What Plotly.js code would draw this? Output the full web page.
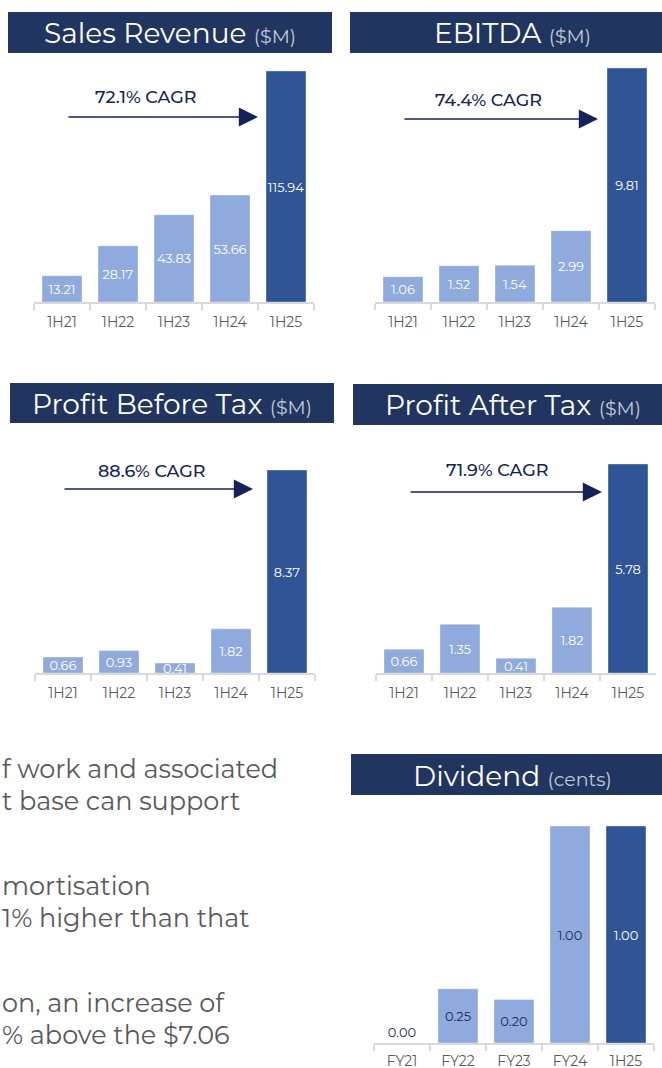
<!DOCTYPE html>
<html>
<head>
<meta charset="utf-8">
<script src="https://cdn.plot.ly/plotly-3.0.1.min.js"></script>
<style>
  html, body { margin: 0; padding: 0; background: #ffffff; }
  #chart { width: 662px; height: 1068px; }
</style>
</head>
<body>
<div id="chart"></div>
<script>
// ---- data ----
const halfYears = ['1H21', '1H22', '1H23', '1H24', '1H25'];
const dividendPeriods = ['FY21', 'FY22', 'FY23', 'FY24', '1H25'];
const salesRevenue = [13.21, 28.17, 43.83, 53.66, 115.94];
const ebitda = [1.06, 1.52, 1.54, 2.99, 9.81];
const profitBeforeTax = [0.66, 0.93, 0.41, 1.82, 8.37];
const profitAfterTax = [0.66, 1.35, 0.41, 1.82, 5.78];
const dividend = [0.00, 0.25, 0.20, 1.00, 1.00];
const panelTitles = ['Sales Revenue', 'EBITDA', 'Profit Before Tax', 'Profit After Tax', 'Dividend'];
const panelUnits = ['($M)', '($M)', '($M)', '($M)', '(cents)'];
const cagrLabels = ['72.1% CAGR', '74.4% CAGR', '88.6% CAGR', '71.9% CAGR'];
const bodyLines = [
  'f work and associated',
  't base can support',
  'mortisation',
  '1% higher than that',
  'on, an increase of',
  '% above the $7.06'
];

// ---- styling / layout helpers ----
const W = 662, H = 1068;
const px = v => v / W;
const py = v => 1 - v / H;
const FONT = 'Montserrat, "Open Sans", sans-serif';
const NAVY = '#203560';
const LIGHT = '#8faadc';
const DARK = '#2f5597';
const barColors = n => Array.from({length: n}, (_, i) => i === n - 1 ? DARK : LIGHT);

const panels = [
  {cats: halfYears, vals: salesRevenue, xd: [34, 314], yd: [71, 302], txt: 'white', so: 6},
  {cats: halfYears, vals: ebitda, xd: [375, 655], yd: [68, 302], txt: 'white', so: 6},
  {cats: halfYears, vals: profitBeforeTax, xd: [35, 315], yd: [470, 673], txt: 'white', so: 6},
  {cats: halfYears, vals: profitAfterTax, xd: [376, 656], yd: [464, 673], txt: 'white', so: 6},
  {cats: dividendPeriods, vals: dividend, xd: [374, 654], yd: [826, 1043], txt: 'navy', so: 4}
];

const traces = [];
const layout = {
  width: W, height: H,
  margin: {l: 0, r: 0, t: 0, b: 0},
  paper_bgcolor: '#ffffff', plot_bgcolor: 'rgba(0,0,0,0)',
  showlegend: false,
  bargap: 0.286,
  font: {family: FONT},
  shapes: [], annotations: []
};

panels.forEach((p, i) => {
  const k = i === 0 ? '' : String(i + 1);
  const n = p.vals.length;
  const labelColors = p.vals.map((_, j) => (p.txt === 'white' || j === n - 1) ? '#ffffff' : '#1f2d5c');
  traces.push({
    type: 'bar',
    x: p.cats, y: p.vals,
    xaxis: 'x' + k, yaxis: 'y' + k,
    marker: {color: barColors(n), line: {color: 'rgba(255,255,255,0.35)', width: 1}},
    text: p.vals.map(v => v.toFixed(2)),
    textposition: p.vals.map(v => v === 0 ? 'outside' : 'inside'),
    insidetextanchor: 'middle',
    constraintext: 'none',
    textangle: 0,
    textfont: {family: FONT, size: 13, color: labelColors},
    outsidetextfont: {family: FONT, size: 13, color: labelColors},
    cliponaxis: false,
    hoverinfo: 'none'
  });
  layout['xaxis' + k] = {
    domain: [px(p.xd[0]), px(p.xd[1])],
    anchor: 'y' + k,
    type: 'category',
    range: [-0.5, n - 0.5],
    showline: true, linecolor: '#d9d9d9', linewidth: 2,
    ticks: 'outside', tickson: 'boundaries', ticklen: 6, tickwidth: 2, tickcolor: '#d9d9d9',
    tickfont: {family: FONT, size: 14, color: '#595959'},
    ticklabelstandoff: p.so,
    showgrid: false, zeroline: false, fixedrange: true
  };
  layout['yaxis' + k] = {
    domain: [py(p.yd[1]), py(p.yd[0])],
    anchor: 'x' + k,
    range: [0, Math.max(...p.vals)],
    visible: false, fixedrange: true
  };
});

// title bars
const bars = [
  {x: [8, 332], y: [12, 53], tx: 170},
  {x: [350, 670], y: [12, 53], tx: 512},
  {x: [10, 334], y: [383, 423], tx: 172},
  {x: [353, 670], y: [384, 425], tx: 513},
  {x: [351, 670], y: [754, 795], tx: 512}
];
bars.forEach((b, i) => {
  layout.shapes.push({
    type: 'rect', xref: 'paper', yref: 'paper',
    x0: px(b.x[0]), x1: px(b.x[1]), y0: py(b.y[1]), y1: py(b.y[0]),
    fillcolor: NAVY, line: {width: 0}, layer: 'below'
  });
  layout.annotations.push({
    xref: 'paper', yref: 'paper', x: px(b.tx), y: py((b.y[0] + b.y[1]) / 2 + 1),
    xanchor: 'center', yanchor: 'middle', showarrow: false,
    text: panelTitles[i] + ' <span style="font-size:19px;fill:#c3c8d6">' + panelUnits[i] + '</span>',
    font: {family: FONT, size: 28, color: '#ffffff'}
  });
});

// CAGR labels and arrows
const cagrPos = [
  {t: [145, 96], a: [67, 258, 117]},
  {t: [488, 99], a: [403, 598, 119]},
  {t: [151, 470], a: [63, 253, 489]},
  {t: [497, 469], a: [409, 602, 492]}
];
cagrPos.forEach((c, i) => {
  layout.annotations.push({
    xref: 'paper', yref: 'paper', x: px(c.t[0]), y: py(c.t[1]),
    xanchor: 'center', yanchor: 'middle', showarrow: false,
    text: cagrLabels[i], font: {family: FONT, size: 17.5, color: '#13235a', weight: 500}
  });
  layout.annotations.push({
    xref: 'paper', yref: 'paper', axref: 'paper', ayref: 'paper',
    x: px(c.a[1]), y: py(c.a[2]), ax: px(c.a[0]), ay: py(c.a[2]),
    text: '', showarrow: true, arrowhead: 2, arrowsize: 2.4, arrowwidth: 1.6,
    arrowcolor: '#13235a', standoff: 0, startstandoff: 0
  });
});

// body text fragments
const bodyY = [768, 800, 885, 917, 1002, 1034];
bodyLines.forEach((line, i) => {
  layout.annotations.push({
    xref: 'paper', yref: 'paper', x: px(0), y: py(bodyY[i]),
    xanchor: 'left', yanchor: 'middle', showarrow: false,
    text: line, font: {family: FONT, size: 25.5, color: '#595959'}
  });
});

Plotly.newPlot('chart', traces, layout, {displayModeBar: false, staticPlot: true});
</script>
</body>
</html>
